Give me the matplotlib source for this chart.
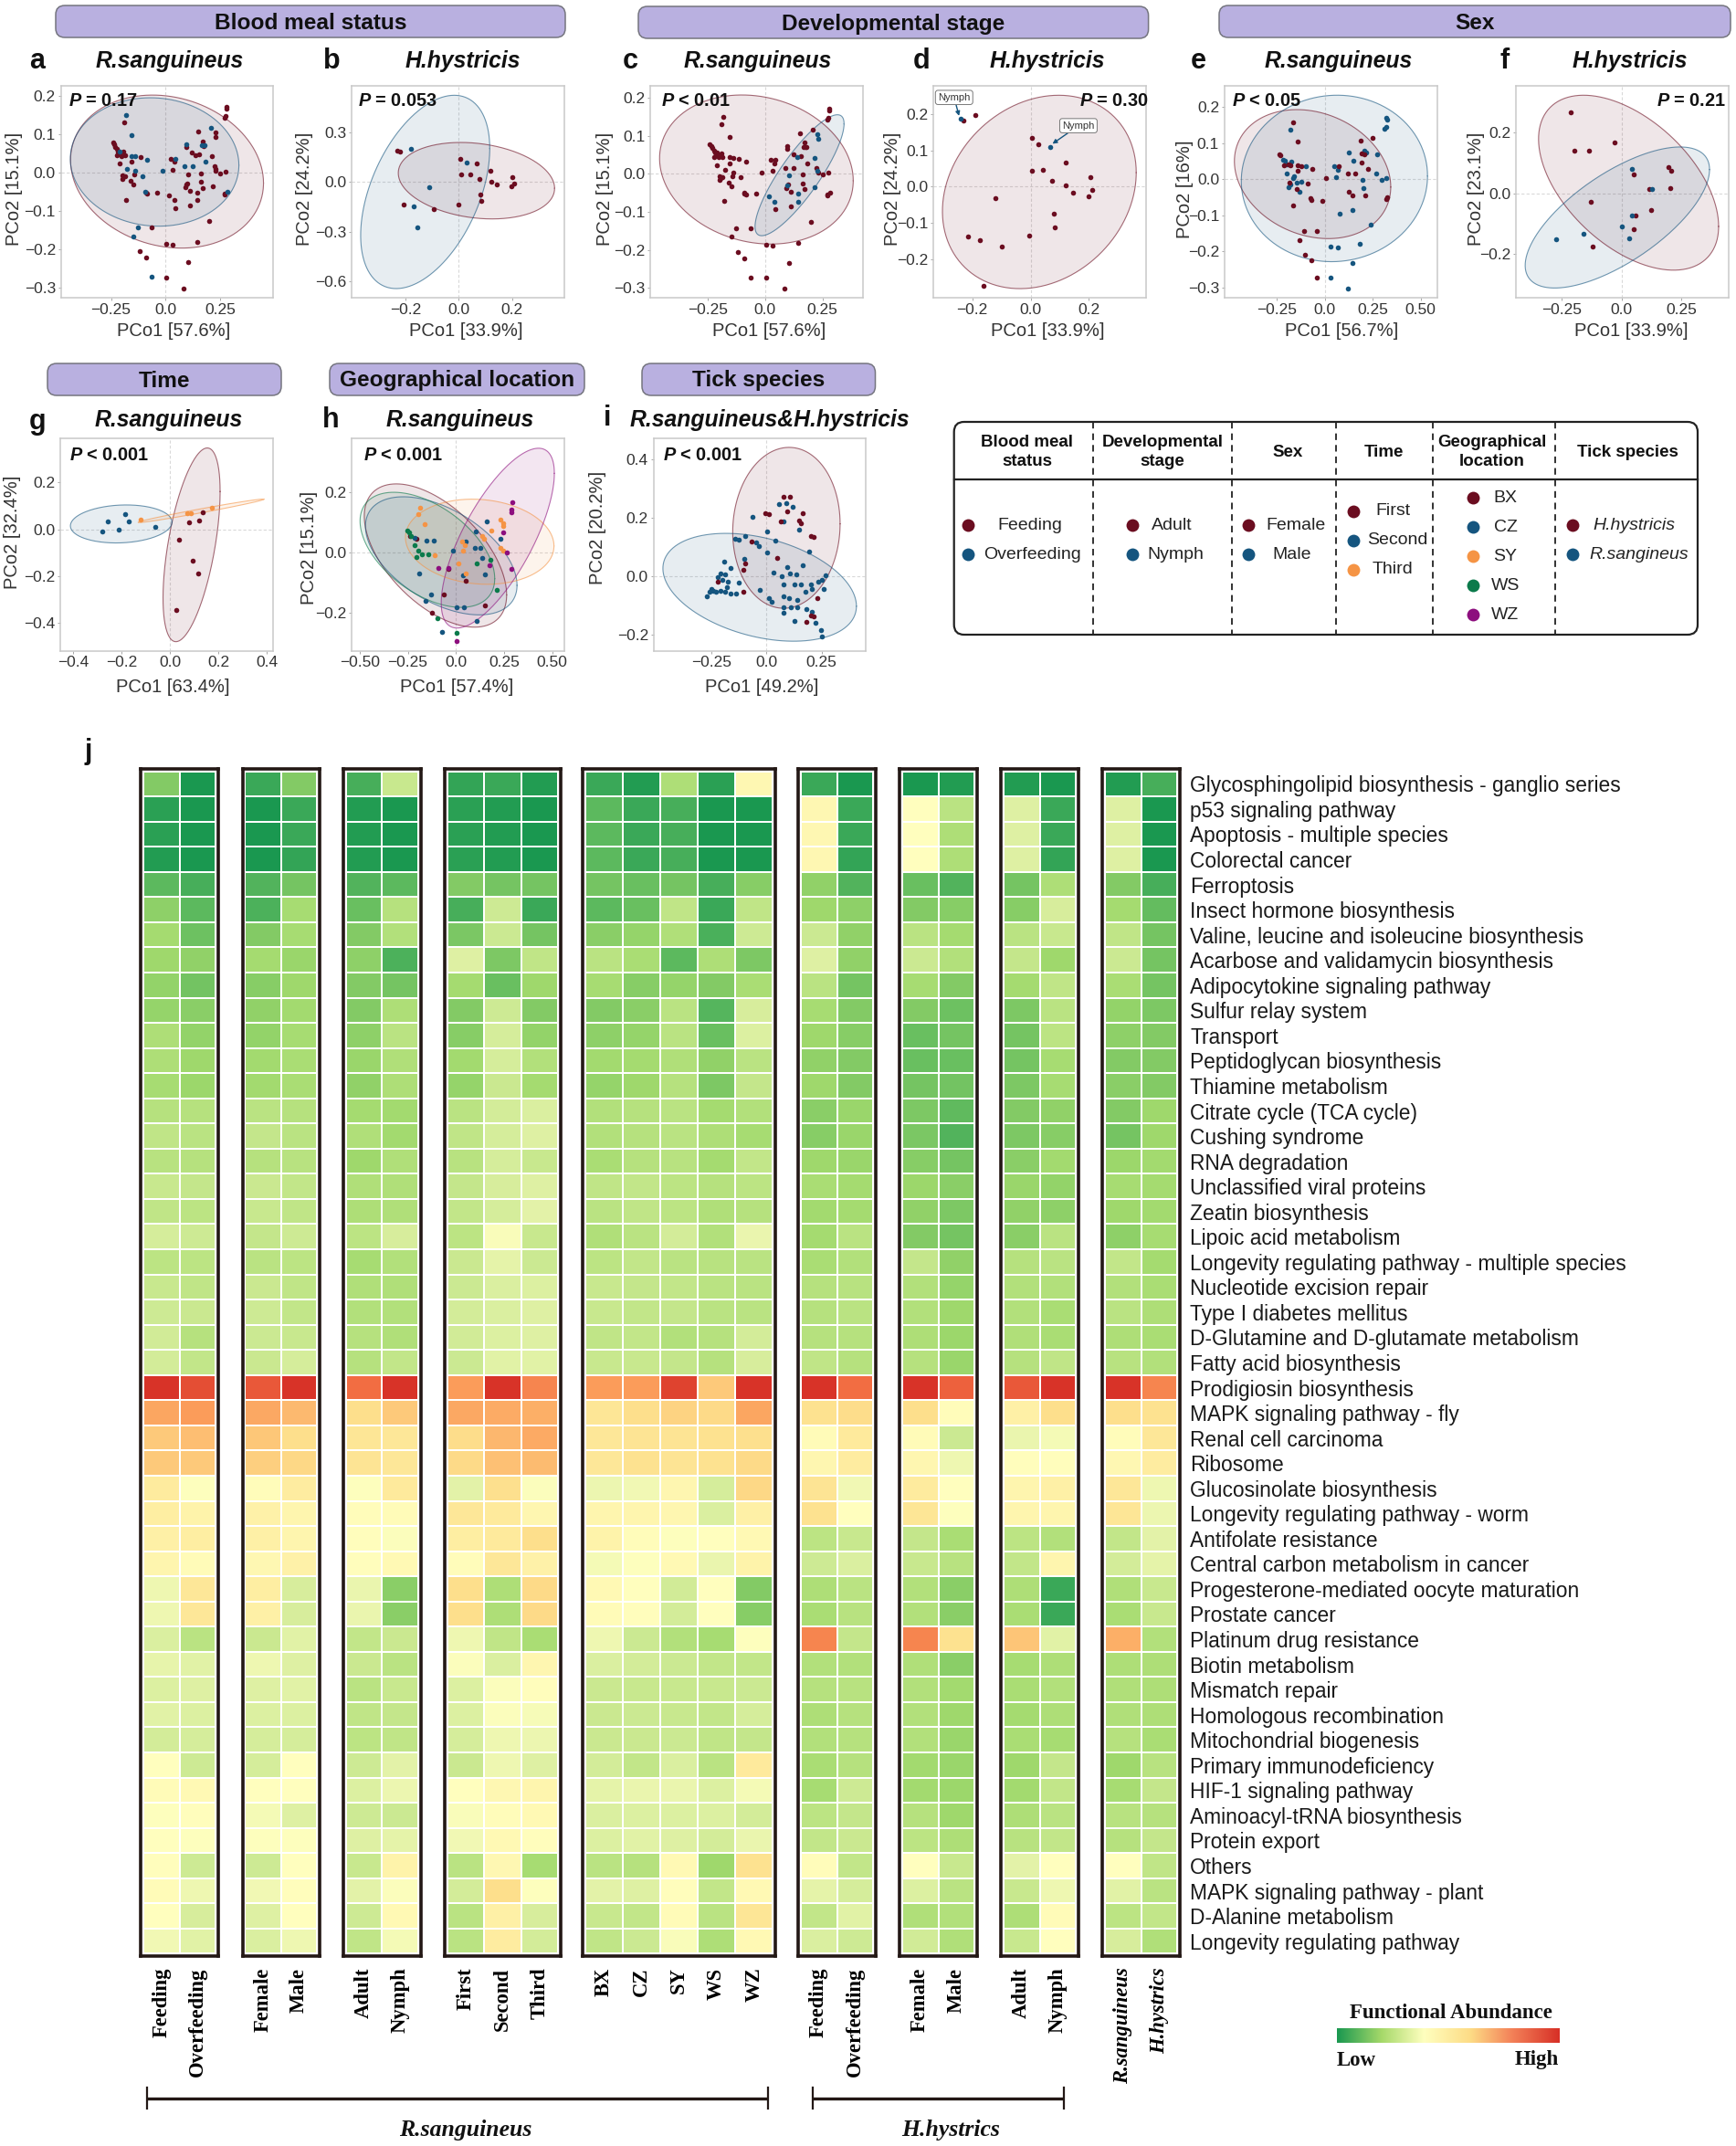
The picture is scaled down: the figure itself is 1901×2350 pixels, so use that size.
import numpy as np
import matplotlib
matplotlib.use("Agg")
import matplotlib.pyplot as plt
from matplotlib.colors import LinearSegmentedColormap
from matplotlib.patches import FancyBboxPatch

W, H = 1901, 2350
plt.rcParams['font.family'] = 'Liberation Sans'
plt.rcParams['mathtext.fontset'] = 'custom'
plt.rcParams['mathtext.bf'] = 'Liberation Sans:bold'
plt.rcParams['mathtext.bfit'] = 'Liberation Sans:italic:bold'

RED = '#6b0d20'
BLUE = '#15557f'
ORANGE = '#f59445'
GREEN = '#0b7a4b'
PURPLE = '#8d0f7e'

# R.sanguineus ordination, first 74 are the feeding ticks, rest overfeeding
rs_x = [.279,.281,.274,.271,-.190,.229,.231,.152,.171,.175,.096,.122,.139,.156,.214,.224,.228,.231,.252,.274,
        .164,.104,.024,.041,.033,.096,.091,.099,.111,.144,.144,.164,.171,.217,.272,.271,.200,.144,.104,.034,
        .005,.005,.084,-.063,-.120,-.089,-.039,.015,.041,.046,.111,-.241,-.236,-.231,-.224,-.219,-.209,-.192,-.187,-.224,
        -.204,-.154,-.209,-.113,-.200,-.195,-.200,-.187,-.159,-.146,-.180,-.089,-.084,-.144,
        -.182,-.156,.209,.096,.166,.178,.045,.185,.087,.125,-.015,-.154,-.140,-.084,-.176,-.140,-.106,-.092,.283,-.127,
        -.147,-.065,-.209]
rs_y = [.171,.165,.146,.142,.129,.103,.091,.107,.081,.069,.065,.052,.044,.047,.041,.015,.008,.003,-.002,.002,
        -.003,-.005,.036,.027,.007,-.031,-.039,-.029,-.047,-.052,-.073,-.025,-.041,-.036,-.055,-.057,-.127,-.182,-.234,-.188,
        -.186,-.274,-.302,-.143,-.206,-.222,-.053,-.059,-.073,-.094,-.087,.078,.072,.067,.060,.055,.052,.054,.044,.044,
        .043,.028,.023,.039,-.007,-.011,-.017,-.009,-.023,-.032,-.071,-.052,-.055,-.006,
        .149,.096,.116,.072,.070,.070,.036,.028,.016,.015,.004,.043,.041,.032,.010,.003,-.010,-.051,-.051,-.143,
        -.166,-.272,.055]
n_feeding = 74
nymph_idx = [5, 6, 12, 14, 21, 16, 25, 29, 33, 47, 48, 30]

# H.hystricis, blood meal
hb_red_x = [-.231,-.220,.006,.067,.117,.010,.043,.076,.122,.143,.201,.196,.208,.080,.083,-.001,-.206,-.095]
hb_red_y = [.188,.182,.138,.110,.066,.044,.046,.017,.004,-.015,.028,-.026,-.011,-.075,-.114,-.136,-.138,-.165]
hb_blue_x = [-.180,.028,-.112,-.168,-.155]
hb_blue_y = [.199,.118,-.031,-.147,-.272]

# H.hystricis, stage
hd_red_x = [-.229,-.188,.004,.027,.119,.006,.042,.073,.121,.146,.205,.211,.198,-.119,.079,.082,-.005,-.214,-.175,-.100,-.162]
hd_red_y = [.181,.197,.135,.116,.065,.044,.045,.017,.003,-.017,.025,-.010,-.026,-.032,-.076,-.114,-.136,-.139,-.147,-.166,-.274]
hd_blue_x = [-.239,.066]
hd_blue_y = [.187,.109]

# R.sanguineus, sex
se_f_x = [-.168,-.142,.189,.247,.208,.194,.194,.223,.074,.119,.160,.008,-.066,-.143,-.125,-.142,-.236,-.230,-.215,-.191,
          -.181,-.089,-.187,-.147,-.074,-.068,-.013,-.168,.123,.145,.213,.319,.326,-.109,-.042,-.134,-.104,-.070,-.043]
se_f_y = [.158,.104,.107,.115,.069,.071,.046,.029,.036,.016,.015,.003,.029,.038,.037,.024,.070,.067,.039,.041,
          .038,-.012,-.009,-.027,-.052,-.057,-.061,-.074,-.036,-.046,-.044,-.055,-.051,-.145,-.144,-.169,-.209,-.225,-.272]
se_m_x = [.321,.325,.319,.313,-.179,.126,.206,.215,.272,.151,.051,.068,-.098,.058,.266,.296,.319,.196,.202,-.198,
          -.162,-.166,-.219,-.209,-.175,-.200,-.147,-.125,-.181,-.191,-.130,.145,.079,.240,.183,.030,.066,.142,.030,.121]
se_m_y = [.171,.166,.145,.141,.137,.073,.079,.075,.068,.051,.035,.027,.035,.006,.015,-.002,.002,-.001,-.024,.016,
          .009,.003,.054,.050,.048,.041,-.009,-.006,-.014,-.022,-.036,-.085,-.096,-.126,-.180,-.187,-.189,-.232,-.274,-.303]

# H.hystricis, sex
hs_f_x = [-.214,-.197,-.136,-.027,.195,.209,.052,.206,.118,-.127,.126,.058,.050,-.121]
hs_f_y = [.266,.141,.140,.167,.085,.075,.061,.017,.013,-.028,-.056,-.072,-.118,-.176]
hs_m_x = [.045,.129,.044,.003,.033,-.159,-.274]
hs_m_y = [.079,.013,-.073,-.110,-.148,-.133,-.151]

# time
tm_first_x = [.137,.077,.120,.036,.092,.116,.024]
tm_first_y = [.074,.029,.039,-.043,-.135,-.190,-.343]
tm_second_x = [-.280,-.258,-.214,-.186,-.171,-.060]
tm_second_y = [-.008,.034,0.0,.064,.032,.009]
tm_third_x = [-.123,.070,.087,.173]
tm_third_y = [.042,.068,.069,.092]

# geographical location
geo_sy_x = [-.188,-.197,-.164,.245,.245,.233,.182,.136,.145,.030,.045,.036,-.109,.233,.248,.015,.052]
geo_sy_y = [.149,.127,.096,.098,.088,.110,.074,.056,.046,.036,.025,.005,-.010,.015,.005,-.036,-.071]
geo_wz_x = [.294,.291,.288,.245,.264,.173,.288,-.091,-.039,.006]
geo_wz_y = [.168,.142,.135,.068,0.0,-.041,-.056,-.051,-.053,-.296]
geo_ws_x = [-.252,-.242,-.233,-.215,-.206,-.176,-.145,-.197,.106,.179,.212,-.094,.006]
geo_ws_y = [.074,.066,.056,.023,-.015,-.005,-.005,.005,-.036,-.025,-.124,-.218,-.269]
geo_cz_x = [-.215,-.152,-.115,.161,.103,.233,.052,.097,.127,-.015,.136,-.191,.036,.152,-.130,-.158,.006,.042,.109,-.070]
geo_cz_y = [.048,.041,.041,.104,.071,.046,.038,.015,.015,.005,-.017,-.069,-.076,-.073,-.139,-.162,-.183,-.183,-.228,-.266]
geo_bx_x = [-.236,-.206,.052,-.064,.152,-.124,-.039]
geo_bx_y = [.056,.046,-.093,-.140,-.178,-.201,-.056]

# tick species
sp_h_x = [.076,.108,.095,-.003,.011,.163,.066,.147,.155,.203,.213,-.068,.050,-.095,-.103,-.221,-.103,.229,.200,.216,.182]
sp_h_y = [.271,.273,.221,.215,.213,.216,.187,.189,.180,.138,.133,.119,.062,.044,.020,-.021,-.055,-.076,-.136,-.139,-.158]
sp_r_x = [.058,.089,.121,-.061,.076,.005,.150,-.142,-.126,-.095,-.047,-.034,.042,.005,.195,-.100,.163,.095,-.192,-.161,
          .032,.068,.105,.137,.268,.253,.200,-.208,-.187,-.221,-.200,-.174,-.247,-.258,-.271,-.239,-.226,-.208,-.187,-.161,
          -.139,-.126,-.179,.076,.129,.155,.208,.261,.076,.103,.011,.024,.142,.076,.111,.142,.182,.208,.076,.129,
          .221,.247,.253,-.029,.176,.234]
sp_r_y = [.245,.251,.237,.203,.187,.153,.158,.127,.124,.136,.115,.101,.122,.080,.082,.060,.035,.031,.049,.026,
          .010,0.0,.007,.006,.002,-.014,-.029,.007,.004,-.003,-.014,-.019,-.045,-.055,-.069,-.050,-.055,-.050,-.055,-.061,
          -.061,-.024,-.040,-.029,-.029,-.029,-.045,-.045,-.071,-.076,-.076,-.090,-.081,-.108,-.108,-.108,-.113,-.123,-.125,-.154,
          -.160,-.186,-.209,-.047,-.055,-.019]

# ellipses as (centre x, centre y, radius x, radius y, correlation)
ell_a = [(.007,.002,.443,.199,-.15), (-.050,.027,.387,.167,-.05)]
ell_b = [(.066,.008,.293,.231,-.2), (-.126,-.060,.242,.584,.45)]
ell_c = [(-.038,.011,.422,.196,-.15), (.150,-.004,.194,.159,.85)]
ell_d = [(.030,-.015,.332,.267,.2)]
ell_e = [(-.064,.014,.408,.179,-.2), (.050,.002,.486,.231,.03)]
ell_f = [(.030,.035,.377,.289,-.5), (-.017,-.080,.386,.233,.68)]
ell_g = [(.089,-.066,.118,.413,.55), (-.202,.023,.210,.081,.1), (.128,.079,.260,.050,.985)]
ell_h = [(-.106,-.010,.370,.239,-.55), (-.076,-.011,.394,.197,-.5), (.124,.036,.386,.142,-.1),
         (-.148,.009,.350,.192,-.5), (.218,.048,.294,.300,.72)]
ell_i = [(.091,.165,.243,.276,.05), (-.030,-.039,.438,.185,-.35)]

pathways = ["Glycosphingolipid biosynthesis - ganglio series", "p53 signaling pathway", "Apoptosis - multiple species",
            "Colorectal cancer", "Ferroptosis", "Insect hormone biosynthesis", "Valine, leucine and isoleucine biosynthesis",
            "Acarbose and validamycin biosynthesis", "Adipocytokine signaling pathway", "Sulfur relay system", "Transport",
            "Peptidoglycan biosynthesis", "Thiamine metabolism", "Citrate cycle (TCA cycle)", "Cushing syndrome",
            "RNA degradation", "Unclassified viral proteins", "Zeatin biosynthesis", "Lipoic acid metabolism",
            "Longevity regulating pathway - multiple species", "Nucleotide excision repair", "Type I diabetes mellitus",
            "D-Glutamine and D-glutamate metabolism", "Fatty acid biosynthesis", "Prodigiosin biosynthesis",
            "MAPK signaling pathway - fly", "Renal cell carcinoma", "Ribosome", "Glucosinolate biosynthesis",
            "Longevity regulating pathway - worm", "Antifolate resistance", "Central carbon metabolism in cancer",
            "Progesterone-mediated oocyte maturation", "Prostate cancer", "Platinum drug resistance", "Biotin metabolism",
            "Mismatch repair", "Homologous recombination", "Mitochondrial biogenesis", "Primary immunodeficiency",
            "HIF-1 signaling pathway", "Aminoacyl-tRNA biosynthesis", "Protein export", "Others",
            "MAPK signaling pathway - plant", "D-Alanine metabolism", "Longevity regulating pathway"]

group_labels = [["Feeding", "Overfeeding"], ["Female", "Male"], ["Adult", "Nymph"], ["First", "Second", "Third"],
                ["BX", "CZ", "SY", "WS", "WZ"], ["Feeding", "Overfeeding"], ["Female", "Male"], ["Adult", "Nymph"],
                ["R.sanguineus", "H.hystrics"]]

# abundance per pathway, -10 lowest (green), 0 yellow, 10 highest (red)
heat_values = [
    [-5,-10, -8,-5, -7.5,-2.5, -8.5,-8,-9.5, -8,-9.5,-3.5,-9,.5, -8,-10, -10,-9.5, -9.5,-10, -9.5,-7.5],
    [-9,-10, -10,-8, -9.5,-10, -9,-9.5,-10, -6.5,-8,-7.5,-10,-10, .5,-8, 0,-3, -1.5,-8, -1.5,-10],
    [-9,-10, -10,-8, -9.5,-10, -9,-9.5,-10, -6.5,-8,-7.5,-10,-10, .5,-8, 0,-3.5, -1.5,-8, -1.5,-10],
    [-9.5,-10, -10,-8.5, -9.5,-10, -9,-9.5,-10, -6.5,-8,-7.5,-10,-10, .5,-8.5, 0,-3.5, -1.5,-8.5, -1.5,-10],
    [-6.5,-7.5, -7,-5.5, -7,-6.5, -5,-5.5,-5.5, -5.5,-6,-5.5,-7.5,-4.8, -4.5,-7, -6,-7, -5.5,-3.5, -5,-7.5],
    [-4.6,-6.5, -7.2,-3.7, -6,-3.2, -7.5,-2.2,-8, -6.5,-6,-2.8,-8,-2.8, -4,-4.6, -5,-4.8, -4.8,-1.8, -3.8,-6.2],
    [-3.8,-5.8, -5,-3.7, -5,-3.3, -5.3,-2.3,-5.5, -4.7,-4.3,-3.4,-7.3,-2.2, -2.3,-4.5, -3,-3.8, -3,-2.5, -2.8,-5.5],
    [-4,-4.5, -3.8,-4.2, -4.6,-7.2, -1.5,-5.2,-2.8, -3,-3.6,-6.5,-3.5,-5.2, -1.5,-4.5, -2.3,-3.3, -2.6,-4, -2.3,-5.5],
    [-4.4,-5.6, -4.8,-4, -5,-5.5, -3.8,-6,-4, -3.7,-4.8,-4.3,-5,-3.6, -3,-5.5, -3.7,-5, -3.8,-2.8, -3.6,-5.5],
    [-4.3,-4.7, -4.5,-3.9, -5,-3.5, -5,-2.2,-5, -5,-4.7,-3,-6.8,-1.8, -3.7,-5, -5,-5.8, -5.2,-3, -4.4,-5.2],
    [-3.5,-4.4, -4.4,-3.7, -4.6,-3, -4.8,-1.9,-4.4, -4.6,-4.3,-3,-6,-1.6, -4,-4.8, -6,-5.5, -5.5,-2.9, -4.6,-5],
    [-3.5,-4, -3.9,-3.6, -4.2,-3.4, -3.9,-1.9,-3.3, -3.9,-3.8,-3.4,-4.5,-3, -4.5,-5, -6,-6, -5.5,-3.7, -5,-5],
    [-3.7,-4.1, -3.9,-3.6, -4.5,-3.5, -4.3,-2.4,-3.8, -4.3,-4,-3.2,-5.2,-2.6, -4,-5, -5.5,-5.6, -5.2,-3.7, -4.7,-5],
    [-3.2,-3.2, -3,-3.2, -3.8,-3.9, -3,-2,-1.7, -3.3,-3.2,-3,-3.8,-3.3, -4.7,-4.2, -5.2,-6.4, -5,-4.5, -5,-4],
    [-2.8,-3, -2.6,-3, -3.4,-3.9, -2.8,-1.9,-1.5, -3.3,-3.2,-3,-3.5,-3.7, -4.8,-4.2, -5.3,-7, -5.2,-4.8, -5.5,-4],
    [-3.1,-3.2, -3.2,-3.1, -4,-3.4, -3.1,-1.9,-2.5, -3.6,-3.2,-3.1,-3.8,-2.7, -4,-4.2, -4.8,-5.5, -4.7,-3.9, -4.1,-3.9],
    [-2.5,-2.6, -2.4,-2.7, -3.4,-3.4, -2.6,-1.8,-1.5, -2.8,-2.7,-2.9,-3.2,-2.9, -3.6,-3.8, -4.1,-4.7, -4.2,-4.4, -3.7,-3.8],
    [-2.8,-2.9, -2.5,-2.8, -3.5,-3.4, -2.7,-1.9,-1.3, -3,-2.8,-2.9,-3.4,-3.2, -3.9,-3.8, -4.5,-5.2, -4.5,-4.6, -4,-3.9],
    [-1.9,-2.2, -2.6,-2.2, -2.9,-1.8, -2.9,-.3,-2.5, -3.4,-3,-2,-3.3,-1, -3.8,-3, -5,-5.5, -4.7,-3, -4.6,-3.7],
    [-2.9,-2.9, -3,-2.9, -3.7,-3.3, -2.4,-1.2,-2.3, -2.9,-2.7,-3,-3.1,-3, -3.6,-3.3, -2.6,-4.5, -3.2,-3, -2.7,-3.8],
    [-2.5,-2.8, -2.4,-2.8, -3.4,-3.4, -2.3,-1.7,-1.6, -2.5,-2.6,-2.7,-3,-3, -3.2,-3.1, -3.3,-4.3, -3.3,-3.3, -3.3,-3.6],
    [-2.2,-2.4, -2.2,-2.7, -3.3,-3.3, -2,-1.7,-1.5, -2.5,-2.7,-2.6,-3,-3, -3.2,-3, -3.3,-4, -3.3,-3.6, -3,-3.5],
    [-2.1,-3.2, -2.3,-2.5, -3.2,-3.4, -2.1,-1.6,-1.5, -2.8,-2.7,-3.3,-3.2,-2, -3.2,-3.2, -3.5,-4.1, -3.4,-3.6, -3.5,-3.6],
    [-2,-2.7, -2.4,-1.9, -3.2,-2.7, -2.3,-1.4,-1.4, -2.5,-2.5,-2.6,-3.2,-1.8, -2.8,-3.2, -3.2,-4.2, -3.2,-2.8, -3.1,-3.3],
    [9.8,8.5, 8,9.8, 7,9.8, 5,9.8,6, 5,5,9,3,9.8, 9.8,7, 9.8,7.5, 8,9.8, 9.8,6],
    [4.6,5, 4.5,3.7, 2,3, 4.5,4.3,4.2, 1.6,2,2.5,2.2,4.6, 1.8,2.1, 2,.2, 1,2, 2,1.8],
    [3,3.5, 3.1,2, 1.6,1.5, 2.1,3.8,4.4, 1.5,1.7,1.7,1.8,1.9, .3,1.4, .3,-2.3, -1,-.5, .2,1.5],
    [3,3, 2.7,2.3, 1.7,1.5, 2.2,3.4,3.6, 1.5,1.8,1.7,1.8,2.2, .6,1.2, .6,-.8, .1,.1, .5,1.2],
    [1.3,-.1, .2,1.2, -.1,1.4, -1.3,1.9,-.2, -.9,-.7,.6,-1.9,2.3, 1.7,-.7, 1.3,0, .7,1, 1.5,-.8],
    [1.1,.8, .9,.7, .2,.3, 1.5,1.4,.6, .7,.7,.6,-1.7,1, 1.8,0, 1.6,-.1, .7,.7, 1.6,-.9],
    [1,1.1, 1,.7, .1,-.2, 1.1,1.4,2, .8,.2,-.1,0,.4, -2.9,-2.5, -2.6,-3.6, -2.9,-3.3, -2.7,-1.3],
    [.7,.3, .5,.9, .1,.4, .2,1.5,.9, -.5,-.1,.4,-1,.8, -2.2,-1.7, -2.5,-3.1, -2.7,.7, -2,-1.2],
    [-.8,1.5, 1.1,-1.8, -1,-4.7, 2,-3.5,2.2, .4,0,-2.1,0,-5, -3.5,-3, -3.3,-4.7, -3.5,-8, -3.4,-2.5],
    [-.8,1.5, 1,-1.8, -1,-4.7, 2,-3.5,2.2, .3,.1,-2,0,-4.8, -3.6,-3.1, -3.3,-4.7, -3.6,-8, -3.6,-2.5],
    [-1.7,-3, -2.4,-1.4, -2.7,-2.4, -.8,-2.8,-3.6, -.8,-2.3,-3.3,-3.7,-.1, 6,-2.6, 6,1.8, 3.2,-1.4, 4.2,-3.3],
    [-1.1,-1.4, -.8,-1.5, -2.4,-3, -.2,-1.7,.6, -1.7,-2,-2.3,-2.7,-2.7, -3.3,-3.3, -3.4,-4.7, -3.7,-3.5, -3.5,-3.5],
    [-1.6,-1.5, -1.5,-1.4, -3,-2.5, -1.6,-.2,.1, -2.4,-2.5,-2.5,-2.5,-2.3, -3.2,-3.1, -3.3,-3.9, -3.6,-3.3, -3.4,-3.5],
    [-1.4,-1.6, -1.6,-1.6, -2.8,-2.6, -1.6,-.2,-.4, -2.4,-2.3,-2.5,-2.7,-1.9, -3.5,-3.2, -3.3,-4, -3.8,-3.5, -3.4,-3.5],
    [-2,-1.9, -1.9,-1.9, -2.9,-2.8, -1.9,-.8,-.9, -2.4,-2.4,-2.3,-2.8,-2.6, -3.3,-3.2, -3.3,-4.2, -3.6,-3.7, -3.2,-3.6],
    [0,-2.2, -1.9,0, -2.2,-1.3, -2.4,-.8,-1.5, -2,-2.7,-1.7,-3,1.4, -3.6,-3.2, -3.9,-4.2, -4,-2.6, -4,-3.1],
    [.3,.4, 0,0, -1.6,-.9, 0,.5,.7, -1.2,-1,-1,-1.6,-.5, -3.7,-2.2, -3.9,-4.1, -3.9,-2.7, -3.7,-2.6],
    [-.1,.1, -.5,-1.5, -2.2,-2.3, -.3,.2,.4, -1.7,-1.6,-1.6,-1.6,-2, -2.9,-2.6, -3.2,-4, -3.5,-3, -3.1,-3.2],
    [0,-.1, -.1,-.1, -1.5,-1.2, -.7,.4,.1, -1.6,-1.4,-1.5,-2,-1, -2.7,-2.4, -2.9,-3.5, -3.1,-2.7, -3.2,-2.6],
    [.1,-2.2, -2.2,0, -2.5,.8, -3,.5,-3.7, -3,-3.2,.4,-4,1.8, .2,-2.7, 0,-2.5, -1.3,0, 0,-2.8],
    [.3,-.8, -.7,.1, -1.3,-.2, -2,2,-.1, -1.3,-1.5,.1,-2.7,.4, -1.2,-1.9, -1.6,-3, -2.5,-.8, -1.4,-3],
    [0,-1.8, -1.5,0, -2.2,.4, -3,1,-1.8, -2.5,-2.7,.3,-3,1.6, -2.7,-1.4, -3.4,-3.3, -3.5,.3, -2.9,-2.7],
    [-.7,-1.4, -1.7,-.8, -2.8,-.5, -3,1.2,-2, -2.8,-2.3,-.3,-3.5,.4, -1.7,-2.2, -2.1,-3.4, -2.5,0, -1.8,-3.4],
]

heat_nodes = [(-10,'#1a9850'),(-8,'#3ba858'),(-6,'#69bf60'),(-5,'#82ca65'),(-4,'#a0d96c'),(-3,'#bbe382'),(-2,'#d3ec99'),
              (-1,'#eaf5ae'),(0,'#ffffbf'),(1,'#fef0a5'),(2,'#fddf8c'),(3,'#fdc97a'),(5,'#fb9d5b'),(7,'#f26d42'),(10,'#d73027')]
heat_cmap = LinearSegmentedColormap.from_list('heat', [((v + 10) / 20, c) for v, c in heat_nodes])
bar_cmap = LinearSegmentedColormap.from_list('bar', [(0,'#1a9850'),(.2,'#a6d96a'),(.39,'#ffffbf'),(.6,'#fddc86'),
                                                     (.78,'#f4845a'),(1,'#d73027')])

fig = plt.figure(figsize=(W / 100, H / 100), dpi=100)


def px_axes(x0, y0, x1, y1):
    return fig.add_axes([x0 / W, 1 - y1 / H, (x1 - x0) / W, (y1 - y0) / H])


def add_ellipse(ax, params, color):
    cx, cy, rx, ry, rho = params
    t = np.linspace(0, 2 * np.pi, 240)
    ex = cx + rx * np.cos(t)
    ey = cy + ry * (rho * np.cos(t) + np.sqrt(1 - rho ** 2) * np.sin(t))
    ax.fill(ex, ey, color=color, alpha=0.10, lw=0, zorder=1)
    ax.plot(ex, ey, color=color, alpha=0.6, lw=0.8, zorder=2)


def panel(box, xlim, ylim, xt, xtl, yt, ytl, xlab, ylab, xlab_x, xlab_y, ylab_x, ylab_y, ells, pts):
    ax = px_axes(*box)
    for params, color in ells:
        add_ellipse(ax, params, color)
    for xs, ys, color in pts:
        ax.scatter(xs, ys, s=16, color=color, lw=0, zorder=3)
    ax.axhline(0, color='#d9d9d9', lw=0.8, ls=(0, (3, 2)), zorder=0)
    ax.axvline(0, color='#d9d9d9', lw=0.8, ls=(0, (3, 2)), zorder=0)
    ax.set_xlim(xlim)
    ax.set_ylim(ylim)
    ax.set_xticks(xt, xtl)
    ax.set_yticks(yt, ytl)
    ax.tick_params(labelsize=12.5, length=2, width=0.6, color='#999999', labelcolor='#333333', pad=2)
    for s in ax.spines.values():
        s.set_color('#c9c9c9')
        s.set_linewidth(1.1)
    ax.set_xlabel(xlab, fontsize=14.5, color='#333333')
    ax.set_ylabel(ylab, fontsize=14.5, color='#333333')
    w, h = box[2] - box[0], box[3] - box[1]
    ax.xaxis.set_label_coords((xlab_x - box[0]) / w, (box[3] - xlab_y) / h)
    ax.yaxis.set_label_coords((ylab_x - box[0]) / w, (box[3] - ylab_y) / h)
    ax.xaxis.label.set_verticalalignment('center')
    ax.yaxis.label.set_verticalalignment('center')
    return ax


M = '\u2212'
t25 = ([-.25, 0, .25], [M + '0.25', '0.0', '0.25'])
t2 = ([-.2, 0, .2], [M + '0.2', '0.0', '0.2'])
rs_feed = (rs_x[:n_feeding], rs_y[:n_feeding])
rs_over = (rs_x[n_feeding:], rs_y[n_feeding:])
adult_idx = [i for i in range(len(rs_x)) if i not in nymph_idx]
y3 = ([.2, .1, 0, -.1, -.2, -.3], ['0.2', '0.1', '0.0', M + '0.1', M + '0.2', M + '0.3'])

panel((66.5, 94, 298.8, 326), (-.481, .493), (-.326, .225), *t25, *y3, 'PCo1 [57.6%]', 'PCo2 [15.1%]', 190, 363, 15.5, 207,
      [(ell_a[0], RED), (ell_a[1], BLUE)], [(*rs_feed, RED), (*rs_over, BLUE)])
panel((385.3, 94, 618.4, 326), (-.401, .397), (-.699, .581), *t2, [.3, 0, -.3, -.6], ['0.3', '0.0', M + '0.3', M + '0.6'],
      'PCo1 [33.9%]', 'PCo2 [24.2%]', 510, 363, 333, 207,
      [(ell_b[0], RED), (ell_b[1], BLUE)], [(hb_red_x, hb_red_y, RED), (hb_blue_x, hb_blue_y, BLUE)])
panel((712.2, 94, 944.9, 326), (-.50, .426), (-.326, .231), *t25, *y3, 'PCo1 [57.6%]', 'PCo2 [15.1%]', 842, 363, 662, 207,
      [(ell_c[0], RED), (ell_c[1], BLUE)],
      [([rs_x[i] for i in adult_idx], [rs_y[i] for i in adult_idx], RED),
       ([rs_x[i] for i in nymph_idx], [rs_y[i] for i in nymph_idx], BLUE)])
ax_d = panel((1022.4, 94, 1255.1, 326), (-.332, .396), (-.307, .278), *t2, [.2, .1, 0, -.1, -.2],
             ['0.2', '0.1', '0.0', M + '0.1', M + '0.2'], 'PCo1 [33.9%]', 'PCo2 [24.2%]', 1147, 363, 977, 207,
             [(ell_d[0], RED)], [(hd_red_x, hd_red_y, RED), (hd_blue_x, hd_blue_y, BLUE)])
for tx, ty, px, py in [(-.262, .246, -.245, .195), (.164, .168, .075, .118)]:
    ax_d.annotate('Nymph', xy=(px, py), xytext=(tx, ty), fontsize=8, ha='center', va='center', color='#333333', zorder=5,
                  bbox=dict(boxstyle='round,pad=0.25', fc='white', ec='#777777', lw=0.7),
                  arrowprops=dict(arrowstyle='-|>', color=BLUE, lw=1, mutation_scale=7, shrinkA=0, shrinkB=0))
panel((1340.6, 94, 1573.5, 326), (-.525, .585), (-.329, .259), [-.25, 0, .25, .5], [M + '0.25', '0.0', '0.25', '0.50'], *y3,
      'PCo1 [56.7%]', 'PCo2 [16%]', 1469, 363, 1297, 207,
      [(ell_e[0], RED), (ell_e[1], BLUE)], [(se_m_x, se_m_y, BLUE), (se_f_x, se_f_y, RED)])
panel((1660.2, 94, 1892.7, 326), (-.441, .448), (-.345, .355), *t25, [.2, 0, -.2], ['0.2', '0.0', M + '0.2'],
      'PCo1 [33.9%]', 'PCo2 [23.1%]', 1786, 363, 1616, 207,
      [(ell_f[0], RED), (ell_f[1], BLUE)], [(hs_f_x, hs_f_y, RED), (hs_m_x, hs_m_y, BLUE)])
panel((65.7, 480, 298.5, 712.7), (-.455, .424), (-.518, .388), [-.4, -.2, 0, .2, .4],
      [M + '0.4', M + '0.2', '0.0', '0.2', '0.4'], [.2, 0, -.2, -.4], ['0.2', '0.0', M + '0.2', M + '0.4'],
      'PCo1 [63.4%]', 'PCo2 [32.4%]', 189, 753, 14, 583,
      [(ell_g[0], RED), (ell_g[1], BLUE), (ell_g[2], ORANGE)],
      [(tm_first_x, tm_first_y, RED), (tm_second_x, tm_second_y, BLUE), (tm_third_x, tm_third_y, ORANGE)])
panel((385, 480, 618, 712.7), (-.542, .564), (-.328, .381), [-.5, -.25, 0, .25, .5],
      [M + '0.50', M + '0.25', '0.0', '0.25', '0.50'], [.2, 0, -.2], ['0.2', '0.0', M + '0.2'],
      'PCo1 [57.4%]', 'PCo2 [15.1%]', 500.6, 753, 338, 600,
      [(ell_h[0], RED), (ell_h[1], BLUE), (ell_h[2], ORANGE), (ell_h[3], GREEN), (ell_h[4], PURPLE)],
      [(geo_bx_x, geo_bx_y, RED), (geo_cz_x, geo_cz_y, BLUE), (geo_sy_x, geo_sy_y, ORANGE),
       (geo_ws_x, geo_ws_y, GREEN), (geo_wz_x, geo_wz_y, PURPLE)])
panel((715.5, 480, 948, 712.7), (-.511, .450), (-.257, .472), *t25, [.4, .2, 0, -.2], ['0.4', '0.2', '0.0', M + '0.2'],
      'PCo1 [49.2%]', 'PCo2 [20.2%]', 834, 753, 654, 578,
      [(ell_i[0], RED), (ell_i[1], BLUE)], [(sp_r_x, sp_r_y, BLUE), (sp_h_x, sp_h_y, RED)])

# heatmap, one framed axes per group of columns
frames = [(152.4, 241), (263.5, 351.6), (374, 462.7), (485, 615.7), (636, 851), (872, 961), (983, 1072), (1094, 1183), (1205, 1294)]
heat = np.array(heat_values)
start = 0
pad = 2.6
for g, (x0, x1) in enumerate(frames):
    labels = group_labels[g]
    n = len(labels)
    ax = px_axes(x0 + 2, 842, x1 - 2, 2142)
    ax.pcolormesh(np.arange(n + 1), np.arange(48), heat[:, start:start + n], cmap=heat_cmap, vmin=-10, vmax=10,
                  edgecolors='white', linewidth=1.3)
    mx = n * pad / (x1 - x0 - 4 - 2 * pad)
    my = 47 * pad / (1300 - 2 * pad)
    ax.set_xlim(-mx, n + mx)
    ax.set_ylim(47 + my, -my)
    ax.set_xticks(np.arange(n) + .5, labels, rotation=90, family='Liberation Serif', weight='bold', fontsize=16.3,
                  style='italic' if g == 8 else 'normal', va='top', ha='center')
    ax.tick_params(axis='x', length=0, pad=9)
    if g == 8:
        ax.yaxis.tick_right()
        ax.set_yticks(np.arange(47) + .5, pathways, fontsize=16.4, color='#1a1a1a')
        ax.tick_params(axis='y', length=0, pad=8)
    else:
        ax.set_yticks([])
    for s in ax.spines.values():
        s.set_color('#231815')
        s.set_linewidth(2.6)
    start += n

# colour bar of the heatmap
cax = px_axes(1463.5, 2220.7, 1707, 2237)
cax.imshow(np.linspace(0, 1, 256).reshape(1, -1), cmap=bar_cmap, aspect='auto')
cax.axis('off')

# everything placed by hand goes on a pixel overlay
ov = fig.add_axes([0, 0, 1, 1], zorder=10)
ov.set_xlim(0, W)
ov.set_ylim(H, 0)
ov.axis('off')
ov.patch.set_visible(False)

banners = [("Blood meal status", 61, 619, 6, 41), ("Developmental stage", 699, 1257.6, 7, 42), ("Sex", 1335, 1895, 6, 41),
           ("Time", 52, 308, 398, 433), ("Geographical location", 361, 640, 398, 433), ("Tick species", 703, 958.5, 398, 433)]
for name, x0, x1, y0, y1 in banners:
    ov.add_patch(FancyBboxPatch((x0, y0), x1 - x0, y1 - y0, boxstyle='round,pad=0,rounding_size=10',
                                fc='#b9b0e0', ec='#75757f', lw=1.1))
    ov.text((x0 + x1) / 2, (y0 + y1) / 2 + 1.5, name, fontsize=17.6, weight='bold', ha='center', va='center', color='#111111')

letters = [('a', 41, 67), ('b', 363, 67), ('c', 690, 67), ('d', 1009, 67), ('e', 1312, 67), ('f', 1648, 67),
           ('g', 41, 462), ('h', 362, 460), ('i', 665, 458), ('j', 97, 823)]
for s, x, y in letters:
    ov.text(x, y, s, fontsize=22, weight='bold', ha='center', va='center', color='#111111')

titles = [('R.sanguineus', 186, 67), ('H.hystricis', 507, 67), ('R.sanguineus', 830, 67), ('H.hystricis', 1147, 67),
          ('R.sanguineus', 1466, 67), ('H.hystricis', 1785, 67), ('R.sanguineus', 185, 460), ('R.sanguineus', 504, 460),
          ('R.sanguineus&H.hystricis', 843, 460)]
for s, x, y in titles:
    ov.text(x, y, s, fontsize=17.8, weight='bold', style='italic', ha='center', va='center', color='#111111')

p_labels = [('= 0.17', 74.7, 111, 'left'), ('= 0.053', 392, 111, 'left'), ('< 0.01', 723.7, 111, 'left'),
            ('= 0.30', 1257.6, 111, 'right'), ('< 0.05', 1349, 111, 'left'), ('= 0.21', 1890, 111, 'right'),
            ('< 0.001', 76.5, 499, 'left'), ('< 0.001', 398, 499, 'left'), ('< 0.001', 726, 499, 'left')]
for s, x, y, ha in p_labels:
    ov.text(x, y, r'$\mathbfit{P}$ ' + s, fontsize=14.3, weight='bold', ha=ha, va='center', color='#111111')

# legend table
ov.add_patch(FancyBboxPatch((1044.7, 462), 814.3, 233, boxstyle='round,pad=0,rounding_size=11', fc='white', ec='#222222', lw=1.6))
ov.plot([1044.7, 1859], [525, 525], color='#222222', lw=1.6)
for x in [1197, 1349, 1463, 1569, 1703]:
    ov.plot([x, x], [462, 695], color='#222222', lw=1.3, ls=(0, (4, 3)))
headers = [("Blood meal\nstatus", 1125), ("Developmental\nstage", 1273), ("Sex", 1410.6), ("Time", 1515),
           ("Geographical\nlocation", 1634), ("Tick species", 1782.5)]
for s, x in headers:
    ov.text(x, 495, s, fontsize=13.5, weight='bold', ha='center', va='center', linespacing=1.25, color='#111111')
legend_items = [("Feeding", 1059.5, 1127.5, 575, RED), ("Overfeeding", 1059.5, 1131, 607, BLUE),
                ("Adult", 1240, 1283, 575, RED), ("Nymph", 1240, 1287, 607, BLUE),
                ("Female", 1367, 1419, 575, RED), ("Male", 1367, 1414.5, 607, BLUE),
                ("First", 1482, 1525, 560, RED), ("Second", 1482, 1530, 592, BLUE), ("Third", 1482, 1525, 624, ORANGE),
                ("BX", 1612.5, 1648.5, 545, RED), ("CZ", 1612.5, 1648.5, 577, BLUE), ("SY", 1612.5, 1648.5, 609, ORANGE),
                ("WS", 1612.5, 1648.5, 641, GREEN), ("WZ", 1612.5, 1648.5, 673, PURPLE)]
for s, mx_, tx, y, c in legend_items:
    ov.scatter([mx_], [y], s=100, color=c, lw=0)
    ov.text(tx, y, s, fontsize=14, ha='center', va='center', color='#222222')
for s, tx, y, c in [("H.hystricis", 1789.6, 575, RED), ("R.sangineus", 1795, 607, BLUE)]:
    ov.scatter([1721.6], [y], s=100, color=c, lw=0)
    ov.text(tx, y, s, fontsize=14, style='italic', ha='center', va='center', color='#222222')

# brackets under the heatmap
for x0, x1, tx, s in [(161, 841, 510, 'R.sanguineus'), (890, 1165, 1041, 'H.hystrics')]:
    ov.plot([x0, x1], [2298, 2298], color='#231815', lw=2.4, solid_capstyle='butt')
    ov.plot([x0, x0], [2286, 2309], color='#231815', lw=1.6)
    ov.plot([x1, x1], [2286, 2309], color='#231815', lw=1.6)
    ov.text(tx, 2332, s, family='Liberation Serif', weight='bold', style='italic', fontsize=18.5,
            ha='center', va='center', color='#111111')

ov.text(1589, 2204, 'Functional Abundance', family='Liberation Serif', weight='bold', fontsize=16.5, ha='center', va='center', color='#111111')
ov.text(1463.5, 2256, 'Low', family='Liberation Serif', weight='bold', fontsize=16.5, ha='left', va='center', color='#111111')
ov.text(1707, 2256, 'High', family='Liberation Serif', weight='bold', fontsize=16.5, ha='right', va='center', color='#111111')

fig.savefig('out.png', dpi=100)
